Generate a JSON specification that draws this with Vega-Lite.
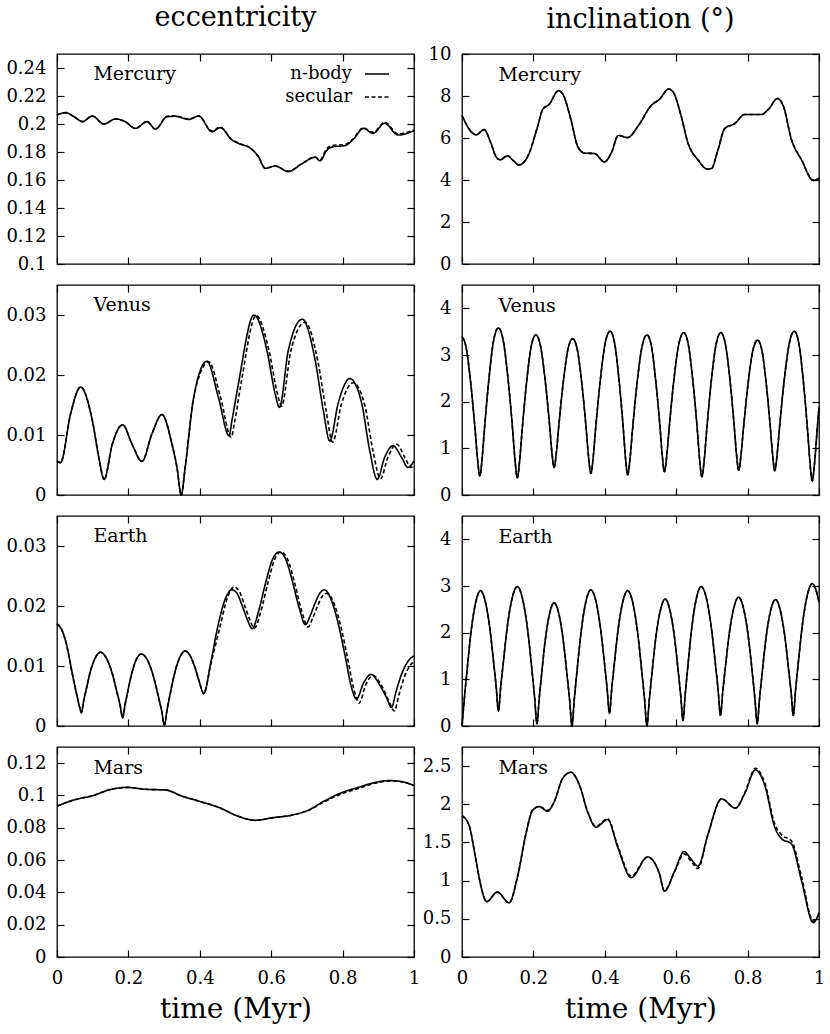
{
"$schema":"https://vega.github.io/schema/vega-lite/v6.json",
"background":"white",
"padding":{"left":5,"top":3,"right":5,"bottom":5},
"columns":2,
"spacing":{"row":21,"column":48},
"bounds":"flush",
"resolve":{"scale":{"strokeDash":"independent"},"legend":{"strokeDash":"independent"}},
"config":{
 "font":"DejaVu Serif",
 "view":{"stroke":"black","strokeWidth":1.3},
 "axis":{"grid":false,"domain":false,"ticks":true,"tickColor":"black","tickWidth":1.2,"tickSize":-7,"labelFont":"DejaVu Serif","labelFontSize":18,"labelColor":"black","labelFlush":false,"labelOverlap":false,"labelBound":false,"titleFont":"DejaVu Serif","titleFontWeight":"normal","titleColor":"black"},
 "axisLeft":{"labelPadding":18},
 "axisBottom":{"labelPadding":19},
 "title":{"font":"DejaVu Serif","fontSize":27,"fontWeight":"normal","color":"black"}
},
"concat":[
{
 "width":357,"height":210,
 "title":{"text":"eccentricity","offset":0,"baseline":"alphabetic","anchor":"middle","frame":"group"},
 "layer":[
  {"data":{"values":[{"t":0,"n":0.2064,"s":0.2064},{"t":0.024,"n":0.2081,"s":0.2081},{"t":0.048,"n":0.2052,"s":0.2052},{"t":0.071,"n":0.2017,"s":0.2017},{"t":0.099,"n":0.2057,"s":0.2057},{"t":0.131,"n":0.2,"s":0.2},{"t":0.164,"n":0.2036,"s":0.2036},{"t":0.19,"n":0.2018,"s":0.2018},{"t":0.22,"n":0.1969,"s":0.1969},{"t":0.252,"n":0.2017,"s":0.2017},{"t":0.276,"n":0.1964,"s":0.1964},{"t":0.308,"n":0.2052,"s":0.2055},{"t":0.331,"n":0.2055,"s":0.2058},{"t":0.369,"n":0.2033,"s":0.2035},{"t":0.397,"n":0.2057,"s":0.2057},{"t":0.434,"n":0.1945,"s":0.195},{"t":0.457,"n":0.1974,"s":0.1978},{"t":0.49,"n":0.1886,"s":0.1889},{"t":0.508,"n":0.1862,"s":0.1865},{"t":0.546,"n":0.1819,"s":0.1819},{"t":0.564,"n":0.1767,"s":0.1767},{"t":0.583,"n":0.1683,"s":0.1685},{"t":0.611,"n":0.17,"s":0.17},{"t":0.648,"n":0.166,"s":0.1662},{"t":0.685,"n":0.1714,"s":0.1716},{"t":0.723,"n":0.1762,"s":0.1765},{"t":0.737,"n":0.1736,"s":0.1745},{"t":0.755,"n":0.181,"s":0.1822},{"t":0.775,"n":0.1838,"s":0.1848},{"t":0.806,"n":0.1845,"s":0.1853},{"t":0.83,"n":0.189,"s":0.1896},{"t":0.858,"n":0.1969,"s":0.1972},{"t":0.885,"n":0.1933,"s":0.194},{"t":0.918,"n":0.2005,"s":0.2012},{"t":0.955,"n":0.1921,"s":0.193},{"t":1,"n":0.1952,"s":0.1958}]},
   "transform":[{"fold":["n","s"],"as":["k","v"]},{"filter":"isValid(datum.v)"}],
   "mark":{"type":"line","interpolate":"monotone","color":"black","strokeWidth":1.6},
   "encoding":{
    "x":{"field":"t","type":"quantitative","scale":{"domain":[0,1],"nice":false},"axis":{"values":[0,0.2,0.4,0.6,0.8,1],"labels":false,"title":null}},
    "y":{"field":"v","type":"quantitative","scale":{"domain":[0.1,0.25],"nice":false,"zero":false},"axis":{"values":[0.1,0.12,0.14,0.16,0.18,0.2,0.22,0.24],"format":"~f","title":null}},
    "strokeDash":{"field":"k","type":"nominal","scale":{"domain":["n","s"],"range":[[1,0],[4,2.5]]},
     "legend":{"orient":"none","legendX":307,"legendY":7,"title":null,"padding":0,"symbolType":"stroke","symbolSize":576,"symbolStrokeWidth":1.4,"symbolStrokeColor":"black","labelFont":"DejaVu Serif","labelFontSize":18,"labelColor":"black","labelAlign":"right","labelOffset":-38,"rowPadding":1,"labelExpr":"datum.label == 'n' ? 'n-body' : 'secular'"}}
   }},
  {"data":{"values":[{"name":"Mercury"}]},
   "mark":{"type":"text","align":"left","baseline":"middle","fontSize":19,"font":"DejaVu Serif","color":"black"},
   "encoding":{
    "x":{"datum":0.102,"type":"quantitative","scale":{"domain":[0,1],"nice":false},"axis":{"orient":"top","values":[0,0.2,0.4,0.6,0.8,1],"labels":false,"title":null}},
    "y":{"datum":0.2354,"type":"quantitative","scale":{"domain":[0.1,0.25],"nice":false,"zero":false},"axis":{"orient":"right","values":[0.1,0.12,0.14,0.16,0.18,0.2,0.22,0.24],"labels":false,"title":null}},
    "text":{"field":"name"}
   }}
 ],
 "resolve":{"axis":{"x":"independent","y":"independent"}}
},
{
 "width":357,"height":210,
 "title":{"text":"inclination (°)","offset":-10,"baseline":"alphabetic","anchor":"middle","frame":"group"},
 "layer":[
  {"data":{"values":[{"t":0,"n":7.07,"s":7.07},{"t":0.029,"n":6.24,"s":6.24},{"t":0.04,"n":6.15,"s":6.15},{"t":0.062,"n":6.4,"s":6.4},{"t":0.08,"n":5.8,"s":5.8},{"t":0.095,"n":5.12,"s":5.12},{"t":0.107,"n":4.96,"s":4.96},{"t":0.127,"n":5.15,"s":5.15},{"t":0.145,"n":4.9,"s":4.9},{"t":0.16,"n":4.72,"s":4.72},{"t":0.184,"n":5.12,"s":5.12},{"t":0.212,"n":6.56,"s":6.56},{"t":0.226,"n":7.36,"s":7.36},{"t":0.244,"n":7.6,"s":7.6},{"t":0.27,"n":8.25,"s":8.25},{"t":0.282,"n":8.1,"s":8.1},{"t":0.305,"n":6.88,"s":6.88},{"t":0.324,"n":5.6,"s":5.6},{"t":0.343,"n":5.28,"s":5.28},{"t":0.371,"n":5.26,"s":5.26},{"t":0.399,"n":4.86,"s":4.86},{"t":0.418,"n":5.28,"s":5.28},{"t":0.438,"n":6.12,"s":6.12},{"t":0.464,"n":6.02,"s":6.02},{"t":0.493,"n":6.56,"s":6.56},{"t":0.53,"n":7.55,"s":7.55},{"t":0.553,"n":7.84,"s":7.84},{"t":0.579,"n":8.33,"s":8.33},{"t":0.591,"n":8.2,"s":8.2},{"t":0.614,"n":7.04,"s":7.04},{"t":0.633,"n":5.76,"s":5.76},{"t":0.661,"n":4.96,"s":4.96},{"t":0.687,"n":4.52,"s":4.52},{"t":0.699,"n":4.55,"s":4.55},{"t":0.717,"n":5.44,"s":5.44},{"t":0.736,"n":6.45,"s":6.45},{"t":0.764,"n":6.69,"s":6.69},{"t":0.792,"n":7.12,"s":7.12},{"t":0.839,"n":7.12,"s":7.12},{"t":0.858,"n":7.36,"s":7.36},{"t":0.884,"n":7.88,"s":7.88},{"t":0.9,"n":7.52,"s":7.52},{"t":0.923,"n":5.92,"s":5.92},{"t":0.951,"n":4.96,"s":4.96},{"t":0.984,"n":3.98,"s":3.98},{"t":1,"n":4.08,"s":4.08}]},
   "transform":[{"fold":["n","s"],"as":["k","v"]},{"filter":"isValid(datum.v)"}],
   "mark":{"type":"line","interpolate":"monotone","color":"black","strokeWidth":1.6},
   "encoding":{
    "x":{"field":"t","type":"quantitative","scale":{"domain":[0,1],"nice":false},"axis":{"values":[0,0.2,0.4,0.6,0.8,1],"labels":false,"title":null}},
    "y":{"field":"v","type":"quantitative","scale":{"domain":[0,10],"nice":false},"axis":{"values":[0,2,4,6,8,10],"format":"~f","title":null}},
    "strokeDash":{"field":"k","type":"nominal","scale":{"domain":["n","s"],"range":[[1,0],[4,2.5]]},"legend":null}
   }},
  {"data":{"values":[{"name":"Mercury"}]},
   "mark":{"type":"text","align":"left","baseline":"middle","fontSize":19,"font":"DejaVu Serif","color":"black"},
   "encoding":{
    "x":{"datum":0.102,"type":"quantitative","scale":{"domain":[0,1],"nice":false},"axis":{"orient":"top","values":[0,0.2,0.4,0.6,0.8,1],"labels":false,"title":null}},
    "y":{"datum":9.02,"type":"quantitative","scale":{"domain":[0,10],"nice":false},"axis":{"orient":"right","values":[0,2,4,6,8,10],"labels":false,"title":null}},
    "text":{"field":"name"}
   }}
 ],
 "resolve":{"axis":{"x":"independent","y":"independent"}}
},
{
 "width":357,"height":210,
 "layer":[
  {"data":{"values":[{"t":0,"n":0.0057,"s":0.0057},{"t":0.01,"n":0.0054,"s":0.0054},{"t":0.038,"n":0.0135,"s":0.0135},{"t":0.066,"n":0.018,"s":0.018},{"t":0.099,"n":0.0124,"s":0.0124},{"t":0.117,"n":0.0063,"s":0.0063},{"t":0.132,"n":0.0026,"s":0.0026},{"t":0.155,"n":0.0085,"s":0.0085},{"t":0.184,"n":0.0117,"s":0.0117},{"t":0.21,"n":0.0085,"s":0.0085},{"t":0.238,"n":0.0056,"s":0.0056},{"t":0.266,"n":0.0102,"s":0.0102},{"t":0.294,"n":0.0134,"s":0.0134},{"t":0.322,"n":0.0085,"s":0.0085},{"t":0.336,"n":0.0046,"s":0.0046},{"t":0.348,"n":0,"s":0},{"t":0.359,"n":0.0046,"s":0.0046},{"t":0.383,"n":0.0163,"s":0.0163},
   {"t":0.42,"n":0.0223},{"t":0.452,"n":0.0163},{"t":0.482,"n":0.0099},{"t":0.49,"n":0.0124},{"t":0.508,"n":0.0185},{"t":0.552,"n":0.03},{"t":0.588,"n":0.0241},{"t":0.611,"n":0.0169},{"t":0.623,"n":0.0146},{"t":0.648,"n":0.0241},{"t":0.687,"n":0.0293},{"t":0.723,"n":0.0225},{"t":0.746,"n":0.0141},{"t":0.764,"n":0.009},{"t":0.788,"n":0.0154},{"t":0.82,"n":0.0194},{"t":0.853,"n":0.0154},{"t":0.876,"n":0.0074},{"t":0.897,"n":0.0026},{"t":0.918,"n":0.0063},{"t":0.941,"n":0.0082},{"t":0.965,"n":0.0063},{"t":0.983,"n":0.0046},{"t":1,"n":0.0057},
   {"t":0.425,"s":0.0222},{"t":0.458,"s":0.0163},{"t":0.488,"s":0.0096},{"t":0.497,"s":0.012},{"t":0.515,"s":0.0184},{"t":0.558,"s":0.0299},{"t":0.594,"s":0.024},{"t":0.617,"s":0.017},{"t":0.629,"s":0.0148},{"t":0.655,"s":0.024},{"t":0.695,"s":0.0288},{"t":0.731,"s":0.0222},{"t":0.754,"s":0.014},{"t":0.772,"s":0.0088},{"t":0.797,"s":0.0152},{"t":0.829,"s":0.0187},{"t":0.862,"s":0.015},{"t":0.885,"s":0.0074},{"t":0.906,"s":0.0027},{"t":0.927,"s":0.0063},{"t":0.951,"s":0.0085},{"t":0.975,"s":0.0062},{"t":0.991,"s":0.0046},{"t":1,"s":0.005}]},
   "transform":[{"fold":["n","s"],"as":["k","v"]},{"filter":"isValid(datum.v)"}],
   "mark":{"type":"line","interpolate":"monotone","color":"black","strokeWidth":1.6},
   "encoding":{
    "x":{"field":"t","type":"quantitative","scale":{"domain":[0,1],"nice":false},"axis":{"values":[0,0.2,0.4,0.6,0.8,1],"labels":false,"title":null}},
    "y":{"field":"v","type":"quantitative","scale":{"domain":[0,0.035],"nice":false},"axis":{"values":[0,0.01,0.02,0.03],"format":"~f","title":null}},
    "strokeDash":{"field":"k","type":"nominal","scale":{"domain":["n","s"],"range":[[1,0],[4,2.5]]},"legend":null}
   }},
  {"data":{"values":[{"name":"Venus"}]},
   "mark":{"type":"text","align":"left","baseline":"middle","fontSize":19,"font":"DejaVu Serif","color":"black"},
   "encoding":{
    "x":{"datum":0.102,"type":"quantitative","scale":{"domain":[0,1],"nice":false},"axis":{"orient":"top","values":[0,0.2,0.4,0.6,0.8,1],"labels":false,"title":null}},
    "y":{"datum":0.0316,"type":"quantitative","scale":{"domain":[0,0.035],"nice":false},"axis":{"orient":"right","values":[0,0.01,0.02,0.03],"labels":false,"title":null}},
    "text":{"field":"name"}
   }}
 ],
 "resolve":{"axis":{"x":"independent","y":"independent"}}
},
{
 "width":357,"height":210,
 "layer":[
  {"data":{"values":[{"t":0,"n":3.39,"s":3.39},{"t":0.011,"n":3.18,"s":3.18},{"t":0.024,"n":2.43,"s":2.43},{"t":0.037,"n":1.37,"s":1.37},{"t":0.0435,"n":0.77,"s":0.77},{"t":0.05,"n":0.41,"s":0.41},{"t":0.0565,"n":0.79,"s":0.79},{"t":0.063,"n":1.42,"s":1.42},{"t":0.076,"n":2.53,"s":2.53},{"t":0.089,"n":3.33,"s":3.33},{"t":0.102,"n":3.58,"s":3.58},{"t":0.1152,"n":3.32,"s":3.32},{"t":0.1285,"n":2.52,"s":2.52},{"t":0.1418,"n":1.4,"s":1.4},{"t":0.1484,"n":0.755,"s":0.755},{"t":0.155,"n":0.37,"s":0.37},{"t":0.1615,"n":0.74,"s":0.74},{"t":0.168,"n":1.35,"s":1.35},{"t":0.181,"n":2.42,"s":2.42},{"t":0.194,"n":3.19,"s":3.19},{"t":0.207,"n":3.43,"s":3.43},{"t":0.2197,"n":3.2,"s":3.2},{"t":0.2325,"n":2.49,"s":2.49},{"t":0.2453,"n":1.5,"s":1.5},{"t":0.2516,"n":0.93,"s":0.93},{"t":0.258,"n":0.59,"s":0.59},{"t":0.2645,"n":0.92,"s":0.92},{"t":0.271,"n":1.47,"s":1.47},{"t":0.284,"n":2.44,"s":2.44},{"t":0.297,"n":3.13,"s":3.13},{"t":0.31,"n":3.35,"s":3.35},{"t":0.3228,"n":3.12,"s":3.12},{"t":0.3355,"n":2.4,"s":2.4},{"t":0.3483,"n":1.38,"s":1.38},{"t":0.3546,"n":0.81,"s":0.81},{"t":0.361,"n":0.46,"s":0.46},{"t":0.3678,"n":0.83,"s":0.83},{"t":0.3745,"n":1.44,"s":1.44},{"t":0.388,"n":2.5,"s":2.5},{"t":0.4015,"n":3.27,"s":3.27},{"t":0.415,"n":3.51,"s":3.51},{"t":0.4273,"n":3.26,"s":3.26},{"t":0.4395,"n":2.49,"s":2.49},{"t":0.4518,"n":1.42,"s":1.42},{"t":0.4579,"n":0.8,"s":0.8},{"t":0.464,"n":0.43,"s":0.43},{"t":0.4708,"n":0.79,"s":0.79},{"t":0.4775,"n":1.39,"s":1.39},{"t":0.491,"n":2.44,"s":2.44},{"t":0.5045,"n":3.19,"s":3.19},{"t":0.518,"n":3.43,"s":3.43},{"t":0.5303,"n":3.2,"s":3.2},{"t":0.5425,"n":2.46,"s":2.46},{"t":0.5548,"n":1.44,"s":1.44},{"t":0.5609,"n":0.85,"s":0.85},{"t":0.567,"n":0.5,"s":0.5},{"t":0.5738,"n":0.86,"s":0.86},{"t":0.5805,"n":1.45,"s":1.45},{"t":0.594,"n":2.5,"s":2.5},{"t":0.6075,"n":3.24,"s":3.24},{"t":0.621,"n":3.48,"s":3.48},{"t":0.6338,"n":3.23,"s":3.23},{"t":0.6465,"n":2.46,"s":2.46},{"t":0.6593,"n":1.38,"s":1.38},{"t":0.6656,"n":0.76,"s":0.76},{"t":0.672,"n":0.39,"s":0.39},{"t":0.6786,"n":0.76,"s":0.76},{"t":0.6853,"n":1.38,"s":1.38},{"t":0.6985,"n":2.46,"s":2.46},{"t":0.7118,"n":3.23,"s":3.23},{"t":0.725,"n":3.48,"s":3.48},{"t":0.7375,"n":3.24,"s":3.24},{"t":0.75,"n":2.51,"s":2.51},{"t":0.7625,"n":1.47,"s":1.47},{"t":0.7688,"n":0.88,"s":0.88},{"t":0.775,"n":0.53,"s":0.53},{"t":0.7816,"n":0.86,"s":0.86},{"t":0.7883,"n":1.42,"s":1.42},{"t":0.8015,"n":2.4,"s":2.4},{"t":0.8148,"n":3.1,"s":3.1},{"t":0.828,"n":3.32,"s":3.32},{"t":0.84,"n":3.1,"s":3.1},{"t":0.852,"n":2.4,"s":2.4},{"t":0.864,"n":1.42,"s":1.42},{"t":0.87,"n":0.86,"s":0.86},{"t":0.876,"n":0.52,"s":0.52},{"t":0.8829,"n":0.88,"s":0.88},{"t":0.8898,"n":1.48,"s":1.48},{"t":0.9035,"n":2.52,"s":2.52},{"t":0.9173,"n":3.27,"s":3.27},{"t":0.931,"n":3.51,"s":3.51},{"t":0.9435,"n":3.25,"s":3.25},{"t":0.956,"n":2.45,"s":2.45},{"t":0.9685,"n":1.33,"s":1.33},{"t":0.9748,"n":0.69,"s":0.69},{"t":0.981,"n":0.3,"s":0.3},{"t":0.9875,"n":0.68,"s":0.68},{"t":0.994,"n":1.32,"s":1.32},{"t":1,"n":1.88,"s":1.88}]},
   "transform":[{"fold":["n","s"],"as":["k","v"]},{"filter":"isValid(datum.v)"}],
   "mark":{"type":"line","interpolate":"monotone","color":"black","strokeWidth":1.6},
   "encoding":{
    "x":{"field":"t","type":"quantitative","scale":{"domain":[0,1],"nice":false},"axis":{"values":[0,0.2,0.4,0.6,0.8,1],"labels":false,"title":null}},
    "y":{"field":"v","type":"quantitative","scale":{"domain":[0,4.5],"nice":false},"axis":{"values":[0,1,2,3,4],"format":"~f","title":null}},
    "strokeDash":{"field":"k","type":"nominal","scale":{"domain":["n","s"],"range":[[1,0],[4,2.5]]},"legend":null}
   }},
  {"data":{"values":[{"name":"Venus"}]},
   "mark":{"type":"text","align":"left","baseline":"middle","fontSize":19,"font":"DejaVu Serif","color":"black"},
   "encoding":{
    "x":{"datum":0.102,"type":"quantitative","scale":{"domain":[0,1],"nice":false},"axis":{"orient":"top","values":[0,0.2,0.4,0.6,0.8,1],"labels":false,"title":null}},
    "y":{"datum":4.06,"type":"quantitative","scale":{"domain":[0,4.5],"nice":false},"axis":{"orient":"right","values":[0,1,2,3,4],"labels":false,"title":null}},
    "text":{"field":"name"}
   }}
 ],
 "resolve":{"axis":{"x":"independent","y":"independent"}}
},
{
 "width":357,"height":210,
 "layer":[
  {"data":{"values":[{"t":0,"n":0.017,"s":0.017},{"t":0.012,"n":0.0162,"s":0.0162},{"t":0.024,"n":0.0142,"s":0.0142},{"t":0.045,"n":0.0081,"s":0.0081},{"t":0.058,"n":0.0045,"s":0.0045},{"t":0.064,"n":0.003,"s":0.003},{"t":0.068,"n":0.0022,"s":0.0022},{"t":0.0748,"n":0.0042,"s":0.0042},{"t":0.0815,"n":0.006,"s":0.006},{"t":0.095,"n":0.0094,"s":0.0094},{"t":0.1085,"n":0.0115,"s":0.0115},{"t":0.122,"n":0.0123,"s":0.0123},{"t":0.1375,"n":0.0114,"s":0.0114},{"t":0.153,"n":0.0091,"s":0.0091},{"t":0.1685,"n":0.0055,"s":0.0055},{"t":0.1763,"n":0.0036,"s":0.0036},{"t":0.184,"n":0.0014,"s":0.0014},{"t":0.1905,"n":0.0035,"s":0.0035},{"t":0.197,"n":0.0054,"s":0.0054},{"t":0.21,"n":0.0089,"s":0.0089},{"t":0.223,"n":0.0112,"s":0.0112},{"t":0.236,"n":0.012,"s":0.012},{"t":0.2523,"n":0.0111,"s":0.0111},{"t":0.2685,"n":0.0086,"s":0.0086},{"t":0.2848,"n":0.0047,"s":0.0047},{"t":0.2929,"n":0.0026,"s":0.0026},{"t":0.301,"n":0.0002,"s":0.0002},{"t":0.3083,"n":0.0027,"s":0.0027},{"t":0.3155,"n":0.0049,"s":0.0049},{"t":0.33,"n":0.0089,"s":0.0089},{"t":0.3445,"n":0.0115,"s":0.0115},{"t":0.359,"n":0.0125,"s":0.0125},{"t":0.372,"n":0.0118,"s":0.0118},{"t":0.385,"n":0.01,"s":0.01},{"t":0.398,"n":0.0075,"s":0.0075},{"t":0.411,"n":0.0054,"s":0.0054},{"t":0.4308,"n":0.0106,"s":0.0103},
   {"t":0.4505,"n":0.0166},{"t":0.4703,"n":0.021},{"t":0.49,"n":0.0227},{"t":0.5043,"n":0.0221},{"t":0.5185,"n":0.0201},{"t":0.5328,"n":0.0178},{"t":0.547,"n":0.0162},{"t":0.5658,"n":0.0194},{"t":0.5845,"n":0.0239},{"t":0.6033,"n":0.0277},{"t":0.622,"n":0.029},{"t":0.6405,"n":0.0278},{"t":0.659,"n":0.0242},{"t":0.6775,"n":0.0199},{"t":0.696,"n":0.0169},{"t":0.7093,"n":0.0184},{"t":0.7225,"n":0.0204},{"t":0.7358,"n":0.0221},{"t":0.749,"n":0.0227},{"t":0.769,"n":0.0209},{"t":0.788,"n":0.017},{"t":0.806,"n":0.012},{"t":0.825,"n":0.0064},{"t":0.839,"n":0.0045},{"t":0.859,"n":0.0072},{"t":0.879,"n":0.0086},{"t":0.908,"n":0.0064},{"t":0.9225,"n":0.0048},{"t":0.937,"n":0.0031},{"t":0.95,"n":0.0058},{"t":0.965,"n":0.0086},{"t":0.98,"n":0.0105},{"t":1,"n":0.0117},
   {"t":0.4565,"s":0.0165},{"t":0.4763,"s":0.0212},{"t":0.496,"s":0.0232},{"t":0.5103,"s":0.0225},{"t":0.5245,"s":0.0203},{"t":0.5388,"s":0.0179},{"t":0.553,"s":0.0163},{"t":0.5718,"s":0.0193},{"t":0.5905,"s":0.0238},{"t":0.6093,"s":0.0277},{"t":0.627,"s":0.029},{"t":0.6465,"s":0.0277},{"t":0.665,"s":0.024},{"t":0.6835,"s":0.0196},{"t":0.703,"s":0.0165},{"t":0.7163,"s":0.018},{"t":0.7295,"s":0.0199},{"t":0.7428,"s":0.0216},{"t":0.756,"s":0.0221},{"t":0.776,"s":0.0204},{"t":0.795,"s":0.0166},{"t":0.813,"s":0.0116},{"t":0.832,"s":0.006},{"t":0.846,"s":0.0038},{"t":0.865,"s":0.0069},{"t":0.885,"s":0.0084},{"t":0.914,"s":0.0062},{"t":0.9295,"s":0.0042},{"t":0.945,"s":0.0025},{"t":0.958,"s":0.0052},{"t":0.972,"s":0.008},{"t":0.987,"s":0.0099},{"t":1,"s":0.0108}]},
   "transform":[{"fold":["n","s"],"as":["k","v"]},{"filter":"isValid(datum.v)"}],
   "mark":{"type":"line","interpolate":"monotone","color":"black","strokeWidth":1.6},
   "encoding":{
    "x":{"field":"t","type":"quantitative","scale":{"domain":[0,1],"nice":false},"axis":{"values":[0,0.2,0.4,0.6,0.8,1],"labels":false,"title":null}},
    "y":{"field":"v","type":"quantitative","scale":{"domain":[0,0.035],"nice":false},"axis":{"values":[0,0.01,0.02,0.03],"format":"~f","title":null}},
    "strokeDash":{"field":"k","type":"nominal","scale":{"domain":["n","s"],"range":[[1,0],[4,2.5]]},"legend":null}
   }},
  {"data":{"values":[{"name":"Earth"}]},
   "mark":{"type":"text","align":"left","baseline":"middle","fontSize":19,"font":"DejaVu Serif","color":"black"},
   "encoding":{
    "x":{"datum":0.102,"type":"quantitative","scale":{"domain":[0,1],"nice":false},"axis":{"orient":"top","values":[0,0.2,0.4,0.6,0.8,1],"labels":false,"title":null}},
    "y":{"datum":0.0316,"type":"quantitative","scale":{"domain":[0,0.035],"nice":false},"axis":{"orient":"right","values":[0,0.01,0.02,0.03],"labels":false,"title":null}},
    "text":{"field":"name"}
   }}
 ],
 "resolve":{"axis":{"x":"independent","y":"independent"}}
},
{
 "width":357,"height":210,
 "layer":[
  {"data":{"values":[{"t":0,"n":0,"s":0},{"t":0.0065,"n":0.58,"s":0.58},{"t":0.013,"n":1.1,"s":1.1},{"t":0.026,"n":2.06,"s":2.06},{"t":0.039,"n":2.67,"s":2.67},{"t":0.052,"n":2.9,"s":2.9},{"t":0.0645,"n":2.69,"s":2.69},{"t":0.077,"n":2.15,"s":2.15},{"t":0.0895,"n":1.3,"s":1.3},{"t":0.0958,"n":0.84,"s":0.84},{"t":0.102,"n":0.32,"s":0.32},{"t":0.1086,"n":0.85,"s":0.85},{"t":0.1153,"n":1.33,"s":1.33},{"t":0.1285,"n":2.22,"s":2.22},{"t":0.1418,"n":2.78,"s":2.78},{"t":0.155,"n":2.99,"s":2.99},{"t":0.1688,"n":2.75,"s":2.75},{"t":0.1825,"n":2.14,"s":2.14},{"t":0.1963,"n":1.17,"s":1.17},{"t":0.2031,"n":0.64,"s":0.64},{"t":0.21,"n":0.05,"s":0.05},{"t":0.216,"n":0.57,"s":0.57},{"t":0.222,"n":1.03,"s":1.03},{"t":0.234,"n":1.89,"s":1.89},{"t":0.246,"n":2.43,"s":2.43},{"t":0.258,"n":2.64,"s":2.64},{"t":0.2705,"n":2.43,"s":2.43},{"t":0.283,"n":1.87,"s":1.87},{"t":0.2955,"n":1,"s":1},{"t":0.3018,"n":0.53,"s":0.53},{"t":0.308,"n":0,"s":0},{"t":0.3146,"n":0.58,"s":0.58},{"t":0.3213,"n":1.11,"s":1.11},{"t":0.3345,"n":2.07,"s":2.07},{"t":0.3478,"n":2.69,"s":2.69},{"t":0.361,"n":2.92,"s":2.92},{"t":0.374,"n":2.71,"s":2.71},{"t":0.387,"n":2.15,"s":2.15},{"t":0.4,"n":1.28,"s":1.28},{"t":0.4065,"n":0.8,"s":0.8},{"t":0.413,"n":0.27,"s":0.27},{"t":0.4194,"n":0.8,"s":0.8},{"t":0.4258,"n":1.27,"s":1.27},{"t":0.4385,"n":2.14,"s":2.14},{"t":0.4513,"n":2.69,"s":2.69},{"t":0.464,"n":2.9,"s":2.9},{"t":0.4775,"n":2.67,"s":2.67},{"t":0.491,"n":2.06,"s":2.06},{"t":0.5045,"n":1.1,"s":1.1},{"t":0.5113,"n":0.58,"s":0.58},{"t":0.518,"n":0,"s":0},{"t":0.5244,"n":0.54,"s":0.54},{"t":0.5308,"n":1.03,"s":1.03},{"t":0.5435,"n":1.93,"s":1.93},{"t":0.5563,"n":2.5,"s":2.5},{"t":0.569,"n":2.72,"s":2.72},{"t":0.5815,"n":2.51,"s":2.51},{"t":0.594,"n":1.97,"s":1.97},{"t":0.6065,"n":1.11,"s":1.11},{"t":0.6128,"n":0.64,"s":0.64},{"t":0.619,"n":0.12,"s":0.12},{"t":0.6254,"n":0.69,"s":0.69},{"t":0.6318,"n":1.21,"s":1.21},{"t":0.6445,"n":2.16,"s":2.16},{"t":0.6573,"n":2.76,"s":2.76},{"t":0.67,"n":2.99,"s":2.99},{"t":0.6835,"n":2.77,"s":2.77},{"t":0.697,"n":2.19,"s":2.19},{"t":0.7105,"n":1.28,"s":1.28},{"t":0.7173,"n":0.78,"s":0.78},{"t":0.724,"n":0.23,"s":0.23},{"t":0.7304,"n":0.74,"s":0.74},{"t":0.7368,"n":1.19,"s":1.19},{"t":0.7495,"n":2.03,"s":2.03},{"t":0.7623,"n":2.56,"s":2.56},{"t":0.775,"n":2.76,"s":2.76},{"t":0.788,"n":2.54,"s":2.54},{"t":0.801,"n":1.97,"s":1.97},{"t":0.814,"n":1.08,"s":1.08},{"t":0.8205,"n":0.59,"s":0.59},{"t":0.827,"n":0.05,"s":0.05},{"t":0.8334,"n":0.58,"s":0.58},{"t":0.8398,"n":1.06,"s":1.06},{"t":0.8525,"n":1.94,"s":1.94},{"t":0.8653,"n":2.5,"s":2.5},{"t":0.878,"n":2.71,"s":2.71},{"t":0.8905,"n":2.51,"s":2.51},{"t":0.903,"n":1.99,"s":1.99},{"t":0.9155,"n":1.17,"s":1.17},{"t":0.9218,"n":0.73,"s":0.73},{"t":0.928,"n":0.23,"s":0.23},{"t":0.9346,"n":0.79,"s":0.79},{"t":0.9413,"n":1.3,"s":1.3},{"t":0.9545,"n":2.23,"s":2.23},{"t":0.9678,"n":2.82,"s":2.82},{"t":0.981,"n":3.05,"s":3.05},{"t":0.99,"n":2.95,"s":2.95},{"t":1,"n":2.65,"s":2.65}]},
   "transform":[{"fold":["n","s"],"as":["k","v"]},{"filter":"isValid(datum.v)"}],
   "mark":{"type":"line","interpolate":"monotone","color":"black","strokeWidth":1.6},
   "encoding":{
    "x":{"field":"t","type":"quantitative","scale":{"domain":[0,1],"nice":false},"axis":{"values":[0,0.2,0.4,0.6,0.8,1],"labels":false,"title":null}},
    "y":{"field":"v","type":"quantitative","scale":{"domain":[0,4.5],"nice":false},"axis":{"values":[0,1,2,3,4],"format":"~f","title":null}},
    "strokeDash":{"field":"k","type":"nominal","scale":{"domain":["n","s"],"range":[[1,0],[4,2.5]]},"legend":null}
   }},
  {"data":{"values":[{"name":"Earth"}]},
   "mark":{"type":"text","align":"left","baseline":"middle","fontSize":19,"font":"DejaVu Serif","color":"black"},
   "encoding":{
    "x":{"datum":0.102,"type":"quantitative","scale":{"domain":[0,1],"nice":false},"axis":{"orient":"top","values":[0,0.2,0.4,0.6,0.8,1],"labels":false,"title":null}},
    "y":{"datum":4.06,"type":"quantitative","scale":{"domain":[0,4.5],"nice":false},"axis":{"orient":"right","values":[0,1,2,3,4],"labels":false,"title":null}},
    "text":{"field":"name"}
   }}
 ],
 "resolve":{"axis":{"x":"independent","y":"independent"}}
},
{
 "width":357,"height":210,
 "layer":[
  {"data":{"values":[{"t":0,"n":0.0934,"s":0.0934},{"t":0.052,"n":0.0975,"s":0.0975},{"t":0.099,"n":0.0998,"s":0.0998},{"t":0.145,"n":0.1034,"s":0.1034},{"t":0.196,"n":0.105,"s":0.105},{"t":0.248,"n":0.1038,"s":0.1038},{"t":0.304,"n":0.1034,"s":0.1034},{"t":0.35,"n":0.0996,"s":0.0996},{"t":0.397,"n":0.0965,"s":0.0965},{"t":0.453,"n":0.0926,"s":0.0926},{"t":0.508,"n":0.0871,"s":0.0871},{"t":0.555,"n":0.0846,"s":0.0846},{"t":0.601,"n":0.0861,"s":0.0861},{"t":0.657,"n":0.0878,"s":0.0878},{"t":0.704,"n":0.0909,"s":0.0907},{"t":0.75,"n":0.0967,"s":0.0962},{"t":0.797,"n":0.1017,"s":0.101},{"t":0.844,"n":0.105,"s":0.1043},{"t":0.89,"n":0.108,"s":0.1075},{"t":0.932,"n":0.1092,"s":0.109},{"t":0.965,"n":0.1086,"s":0.1085},{"t":1,"n":0.1061,"s":0.1061}]},
   "transform":[{"fold":["n","s"],"as":["k","v"]},{"filter":"isValid(datum.v)"}],
   "mark":{"type":"line","interpolate":"monotone","color":"black","strokeWidth":1.6},
   "encoding":{
    "x":{"field":"t","type":"quantitative","scale":{"domain":[0,1],"nice":false},"axis":{"values":[0,0.2,0.4,0.6,0.8,1],"format":"~f","title":"time (Myr)","titleFontSize":28,"titlePadding":8}},
    "y":{"field":"v","type":"quantitative","scale":{"domain":[0,0.13],"nice":false},"axis":{"values":[0,0.02,0.04,0.06,0.08,0.1,0.12],"format":"~f","title":null}},
    "strokeDash":{"field":"k","type":"nominal","scale":{"domain":["n","s"],"range":[[1,0],[4,2.5]]},"legend":null}
   }},
  {"data":{"values":[{"name":"Mars"}]},
   "mark":{"type":"text","align":"left","baseline":"middle","fontSize":19,"font":"DejaVu Serif","color":"black"},
   "encoding":{
    "x":{"datum":0.102,"type":"quantitative","scale":{"domain":[0,1],"nice":false},"axis":{"orient":"top","values":[0,0.2,0.4,0.6,0.8,1],"labels":false,"title":null}},
    "y":{"datum":0.1173,"type":"quantitative","scale":{"domain":[0,0.13],"nice":false},"axis":{"orient":"right","values":[0,0.02,0.04,0.06,0.08,0.1,0.12],"labels":false,"title":null}},
    "text":{"field":"name"}
   }}
 ],
 "resolve":{"axis":{"x":"independent","y":"independent"}}
},
{
 "width":357,"height":210,
 "layer":[
  {"data":{"values":[{"t":0,"n":1.85,"s":1.85},{"t":0.02,"n":1.72,"s":1.72},{"t":0.038,"n":1.3,"s":1.3},{"t":0.052,"n":0.95,"s":0.95},{"t":0.069,"n":0.725,"s":0.725},{"t":0.099,"n":0.85,"s":0.85},{"t":0.132,"n":0.71,"s":0.71},{"t":0.155,"n":1.04,"s":1.04},{"t":0.179,"n":1.61,"s":1.61},{"t":0.198,"n":1.92,"s":1.93},{"t":0.216,"n":1.97,"s":1.97},{"t":0.24,"n":1.91,"s":1.92},{"t":0.258,"n":2.03,"s":2.03},{"t":0.282,"n":2.34,"s":2.34},{"t":0.305,"n":2.42,"s":2.42},{"t":0.329,"n":2.25,"s":2.25},{"t":0.352,"n":1.9,"s":1.9},{"t":0.375,"n":1.7,"s":1.71},{"t":0.408,"n":1.8,"s":1.81},{"t":0.436,"n":1.44,"s":1.46},{"t":0.474,"n":1.04,"s":1.06},{"t":0.52,"n":1.31,"s":1.31},{"t":0.553,"n":1.09,"s":1.09},{"t":0.567,"n":0.86,"s":0.87},{"t":0.596,"n":1.13,"s":1.12},{"t":0.622,"n":1.38,"s":1.35},{"t":0.642,"n":1.28,"s":1.25},{"t":0.661,"n":1.19,"s":1.16},{"t":0.689,"n":1.61,"s":1.6},{"t":0.727,"n":2.07,"s":2.07},{"t":0.766,"n":1.95,"s":1.95},{"t":0.792,"n":2.14,"s":2.15},{"t":0.822,"n":2.45,"s":2.47},{"t":0.848,"n":2.25,"s":2.28},{"t":0.876,"n":1.7,"s":1.74},{"t":0.895,"n":1.55,"s":1.6},{"t":0.923,"n":1.48,"s":1.52},{"t":0.951,"n":1,"s":1.05},{"t":0.984,"n":0.45,"s":0.47},{"t":1,"n":0.58,"s":0.56}]},
   "transform":[{"fold":["n","s"],"as":["k","v"]},{"filter":"isValid(datum.v)"}],
   "mark":{"type":"line","interpolate":"monotone","color":"black","strokeWidth":1.6},
   "encoding":{
    "x":{"field":"t","type":"quantitative","scale":{"domain":[0,1],"nice":false},"axis":{"values":[0,0.2,0.4,0.6,0.8,1],"format":"~f","title":"time (Myr)","titleFontSize":28,"titlePadding":8}},
    "y":{"field":"v","type":"quantitative","scale":{"domain":[0,2.75],"nice":false},"axis":{"values":[0,0.5,1,1.5,2,2.5],"format":"~f","title":null}},
    "strokeDash":{"field":"k","type":"nominal","scale":{"domain":["n","s"],"range":[[1,0],[4,2.5]]},"legend":null}
   }},
  {"data":{"values":[{"name":"Mars"}]},
   "mark":{"type":"text","align":"left","baseline":"middle","fontSize":19,"font":"DejaVu Serif","color":"black"},
   "encoding":{
    "x":{"datum":0.102,"type":"quantitative","scale":{"domain":[0,1],"nice":false},"axis":{"orient":"top","values":[0,0.2,0.4,0.6,0.8,1],"labels":false,"title":null}},
    "y":{"datum":2.48,"type":"quantitative","scale":{"domain":[0,2.75],"nice":false},"axis":{"orient":"right","values":[0,0.5,1,1.5,2,2.5],"labels":false,"title":null}},
    "text":{"field":"name"}
   }}
 ],
 "resolve":{"axis":{"x":"independent","y":"independent"}}
}
]
}
